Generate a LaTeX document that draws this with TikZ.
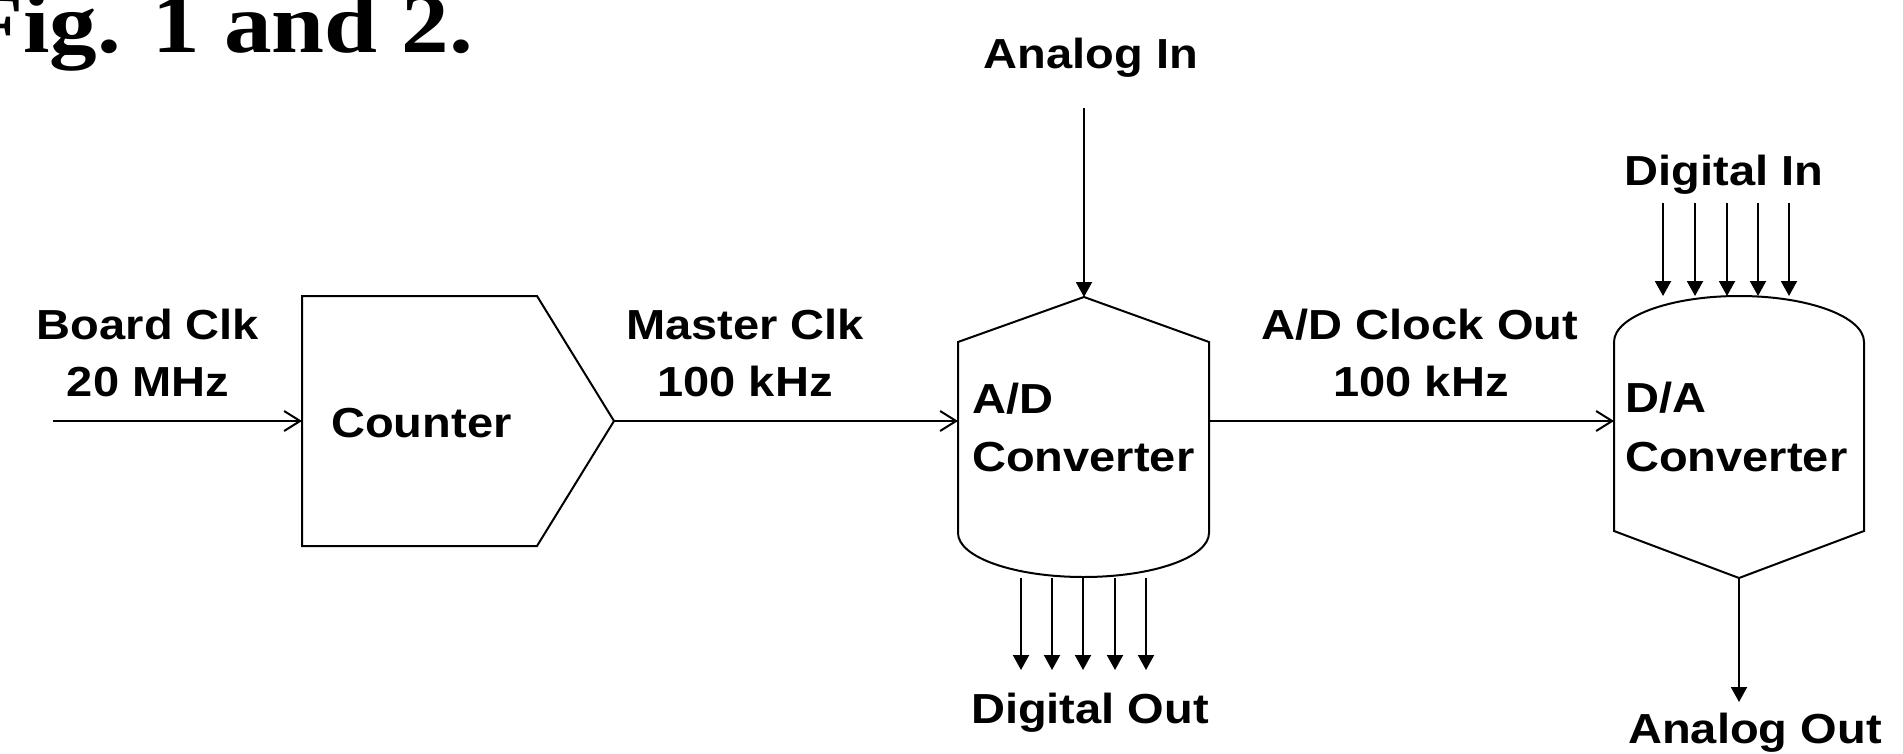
\documentclass[tikz,border=0pt]{standalone}
\usepackage{fontspec}
\usetikzlibrary{arrows.meta}
\newfontfamily\lblfont[FakeStretch=1.12]{Liberation Sans}
\newfontfamily\titlefont[FakeStretch=1.12]{Liberation Serif}

\tikzset{
  lbl/.style={font=\lblfont\bfseries\fontsize{42}{50}\selectfont, inner sep=0pt, anchor=base},
  lbll/.style={lbl, anchor=base west},
  wire/.style={line width=2pt},
  openarr/.style={wire, -{Straight Barb[length=16pt,width=20pt]}},
  fillarr/.style={wire, -{Triangle[length=15pt,width=16pt]}},
  block/.style={line width=2pt, line join=miter},
}

\begin{document}
\begin{tikzpicture}[x=1pt,y=-1pt]
\useasboundingbox (0,0) rectangle (1903,754);
\fill[white] (0,0) rectangle (1903,754);

% heading
\node[font=\titlefont\bfseries\fontsize{85}{100}\selectfont, anchor=base west, inner sep=0pt] (title) at (-35,53) {Fig. 1 and 2.};

% counter block (pentagon pointing right)
\draw[block] (302,296) -- (537,296) -- (614,421) -- (537,546) -- (302,546) -- cycle;
\coordinate (cnt-in) at (302,421);
\coordinate (cnt-out) at (614,421);
\node[lbll] (cnt) at (331,437) {Counter};

% A/D converter: peaked top, rounded bottom
\draw[block] (958,342) -- (1084,297) -- (1209,342) -- (1209,533)
  arc[start angle=0,end angle=180,x radius=125.5,y radius=44] -- cycle;
\coordinate (ad-in) at (958,421);
\coordinate (ad-out) at (1209,421);
\coordinate (ad-top) at (1084,297);
\node[lbll] (ad1) at (972,413) {A/D};
\node[lbll] (ad2) at (972,471) {Converter};

% D/A converter: rounded top, pointed bottom
\draw[block] (1614,342) arc[start angle=180,end angle=360,x radius=125,y radius=46]
  -- (1864,531) -- (1739,578) -- (1614,531) -- cycle;
\coordinate (da-in) at (1614,421);
\coordinate (da-bot) at (1739,578);
\node[lbll] (da1) at (1625,412) {D/A};
\node[lbll] (da2) at (1625,471) {Converter};

% signal labels
\node[lbl] (bclk1) at (148,339) {Board Clk};
\node[lbl] (bclk2) at (148,396) {20 MHz};
\node[lbl] (mclk1) at (745,339) {Master Clk};
\node[lbl] (mclk2) at (745,396) {100 kHz};
\node[lbl] (aclk1) at (1420,339) {A/D Clock Out};
\node[lbl] (aclk2) at (1421,396) {100 kHz};
\node[lbl] (ain) at (1091,69) {Analog In};
\node[lbl] (dout) at (1090,723) {Digital Out};
\node[lbl] (din) at (1724,186) {Digital In};
\node[lbl] (aout) at (1755,743) {Analog Out};

% clock chain
\coordinate (bclk-src) at (53,421);
\draw[openarr] (bclk-src) -- (cnt-in);
\draw[openarr] (cnt-out) -- (ad-in);
\draw[openarr] (ad-out) -- (da-in);

% analog input and output
\coordinate (ain-src) at (1084,108);
\draw[fillarr] (ain-src) -- (ad-top);
\coordinate (aout-end) at (1739,702);
\draw[fillarr] (da-bot) -- (aout-end);

% digital buses
\foreach \i/\x in {1/1021,2/1052,3/1083,4/1115,5/1146}{
  \coordinate (do-s\i) at (\x,578);
  \coordinate (do-e\i) at (\x,670);
  \draw[fillarr] (do-s\i) -- (do-e\i);
}
\foreach \i/\x in {1/1663,2/1695,3/1727,4/1758,5/1789}{
  \coordinate (di-s\i) at (\x,203);
  \coordinate (di-e\i) at (\x,296);
  \draw[fillarr] (di-s\i) -- (di-e\i);
}
\end{tikzpicture}
\end{document}
